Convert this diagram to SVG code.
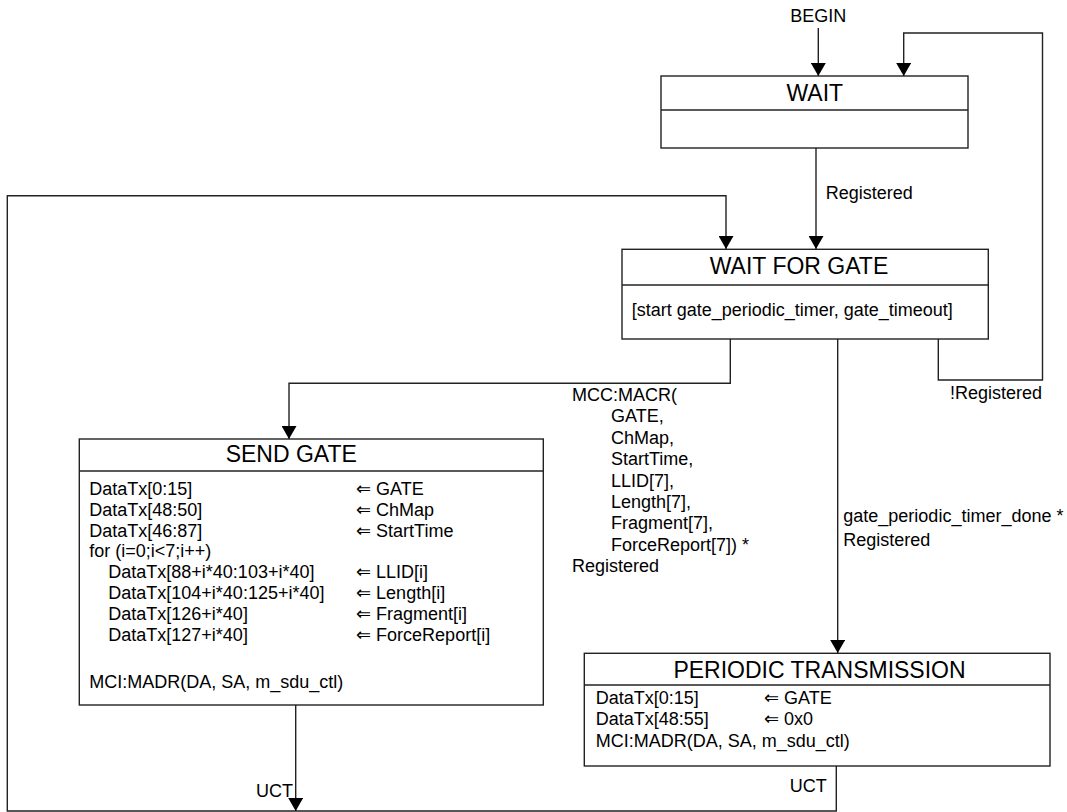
<svg xmlns="http://www.w3.org/2000/svg" width="1067" height="812" viewBox="0 0 1067 812">
<style>
text{font-family:"Liberation Sans",Arial,"DejaVu Sans",sans-serif;fill:#000}
.t{font-size:23px;text-anchor:middle}
.b{font-size:18px}
.l{font-size:18px}
.box{fill:#fff;stroke:#222;stroke-width:1.4}
.div{stroke:#222;stroke-width:1.4}
.c{fill:none;stroke:#222;stroke-width:1.4}
.arr{font-family:"DejaVu Sans","Liberation Sans",sans-serif}
</style>
<defs>
<marker id="ah" markerUnits="userSpaceOnUse" markerWidth="15" markerHeight="15" refX="13" refY="7.5" orient="auto">
<path d="M0,0 L13,7.5 L0,15 Z" fill="#000"/>
</marker>
</defs>
<rect width="1067" height="812" fill="#fff"/>

<g id="connectors">
<path class="c" d="M818.3,28 V76" marker-end="url(#ah)"/>
<path class="c" d="M816,148 V249" marker-end="url(#ah)"/>
<path class="c" d="M938.3,339 V380 H1042.5 V33 H903.7 V76" marker-end="url(#ah)"/>
<path class="c" d="M730.3,339 V383.3 H289 V439" marker-end="url(#ah)"/>
<path class="c" d="M837.7,339 V653" marker-end="url(#ah)"/>
<path class="c" d="M836.3,766 V811 H7.3 V195.7 H726 V249" marker-end="url(#ah)"/>
<path class="c" d="M295.7,705 V811" marker-end="url(#ah)"/>
<text class="l" x="818.3" y="21.7" text-anchor="middle">BEGIN</text>
<text class="l" x="825.7" y="199">Registered</text>
<text class="l" x="950" y="399.3">!Registered</text>
<text class="l" x="572" y="401">MCC:MACR(<tspan x="611" y="422.4">GATE,</tspan><tspan x="611" y="443.8">ChMap,</tspan><tspan x="611" y="465.2">StartTime,</tspan><tspan x="611" y="486.6">LLID[7],</tspan><tspan x="611" y="508">Length[7],</tspan><tspan x="611" y="529.4">Fragment[7],</tspan><tspan x="611" y="550.8">ForceReport[7]) *</tspan><tspan x="572" y="572.2">Registered</tspan></text>
<text class="l" x="843.3" y="522.3">gate_periodic_timer_done *<tspan x="843.3" y="545.7">Registered</tspan></text>
<text class="l" x="826.7" y="791.7" text-anchor="end">UCT</text>
<text class="l" x="293" y="796.7" text-anchor="end">UCT</text>
</g>

<g id="wait">
<rect class="box" x="661" y="76" width="307" height="72"/>
<line class="div" x1="661" y1="110" x2="968" y2="110"/>
<text class="t" x="814.8" y="100.5">WAIT</text>
</g>

<g id="wait-for-gate">
<rect class="box" x="622" y="249.3" width="366.3" height="89.7"/>
<line class="div" x1="622" y1="285" x2="988.3" y2="285"/>
<text class="t" x="799" y="274.3">WAIT FOR GATE</text>
<text class="b" x="631.7" y="316">[start gate_periodic_timer, gate_timeout]</text>
</g>

<g id="send-gate">
<rect class="box" x="79.3" y="439" width="464" height="266"/>
<line class="div" x1="79.3" y1="471" x2="543.3" y2="471"/>
<text class="t" x="291.3" y="461.7">SEND GATE</text>
<text class="b" x="89.3" y="495">DataTx[0:15]</text>
<text class="b" x="89.3" y="515.8">DataTx[48:50]</text>
<text class="b" x="89.3" y="536.6">DataTx[46:87]</text>
<text class="b" x="89.3" y="557.4">for (i=0;i&lt;7;i++)</text>
<text class="b" x="108.3" y="578.2">DataTx[88+i*40:103+i*40]</text>
<text class="b" x="108.3" y="599">DataTx[104+i*40:125+i*40]</text>
<text class="b" x="108.3" y="619.8">DataTx[126+i*40]</text>
<text class="b" x="108.3" y="640.6">DataTx[127+i*40]</text>
<text class="b" x="356" y="495"><tspan class="arr">⇐</tspan> GATE</text>
<text class="b" x="356" y="515.8"><tspan class="arr">⇐</tspan> ChMap</text>
<text class="b" x="356" y="536.6"><tspan class="arr">⇐</tspan> StartTime</text>
<text class="b" x="356" y="578.2"><tspan class="arr">⇐</tspan> LLID[i]</text>
<text class="b" x="356" y="599"><tspan class="arr">⇐</tspan> Length[i]</text>
<text class="b" x="356" y="619.8"><tspan class="arr">⇐</tspan> Fragment[i]</text>
<text class="b" x="356" y="640.6"><tspan class="arr">⇐</tspan> ForceReport[i]</text>
<text class="b" x="89.3" y="688">MCI:MADR(DA, SA, m_sdu_ctl)</text>
</g>

<g id="periodic-transmission">
<rect class="box" x="584.3" y="653.3" width="465.7" height="112.7"/>
<line class="div" x1="584.3" y1="685" x2="1050" y2="685"/>
<text class="t" x="819.5" y="678.3">PERIODIC TRANSMISSION</text>
<text class="b" x="595.7" y="704.3">DataTx[0:15]</text>
<text class="b" x="595.7" y="725.4">DataTx[48:55]</text>
<text class="b" x="764" y="704.3"><tspan class="arr">⇐</tspan> GATE</text>
<text class="b" x="764" y="725.4"><tspan class="arr">⇐</tspan> 0x0</text>
<text class="b" x="595.7" y="746.5">MCI:MADR(DA, SA, m_sdu_ctl)</text>
</g>
</svg>
